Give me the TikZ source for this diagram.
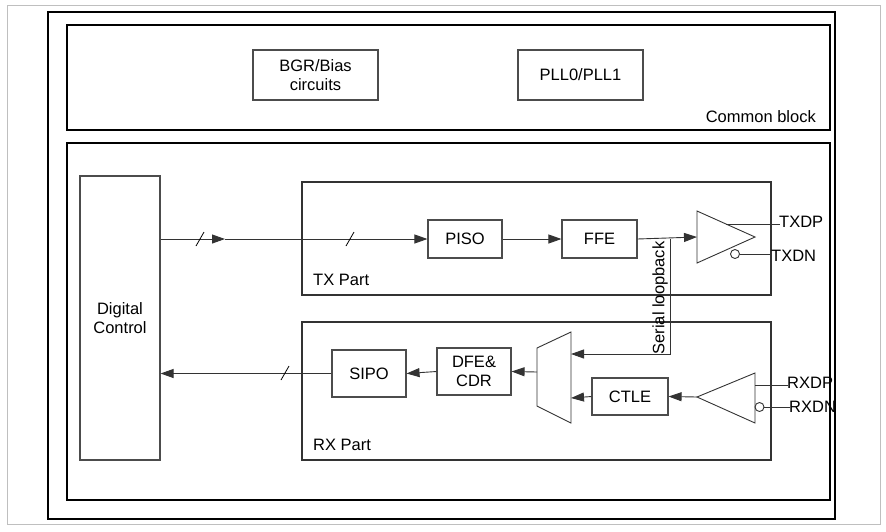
\documentclass[tikz,border=0pt]{standalone}
\usepackage{fontspec}
\setmainfont{Liberation Sans}
\usetikzlibrary{arrows.meta}
\begin{document}
\begin{tikzpicture}[x=1pt,y=-1pt,
  blk/.style={draw=black!70,line width=1.1pt,fill=white,align=center,font=\fontsize{16.5}{19}\selectfont,inner sep=0pt},
  lbl/.style={font=\fontsize{16.5}{19}\selectfont,inner sep=1pt},
  con/.style={draw=black!80,line width=0.9pt},
  arr/.style={con,-{Triangle[length=13pt,width=9pt]}},
  sl/.style={draw=black,line width=0.8pt}]
\useasboundingbox (0,0) rectangle (886,531);
\draw[black!25,line width=1pt] (7,5) rectangle (880,524);
\draw[line width=1.8pt] (48,12) rectangle (835,519);
\draw[line width=1.5pt] (67,25) rectangle (830,130);
\node[lbl,anchor=east] (cb) at (817,117) {Common block};
\node[blk,minimum width=125pt,minimum height=50pt] (bgr) at (315.5,75) {BGR/Bias\\circuits};
\node[blk,minimum width=125pt,minimum height=50pt] (pll) at (580.5,75) {PLL0/PLL1};
\draw[line width=1.5pt] (67,143) rectangle (830,500);
\node[blk,minimum width=80pt,minimum height=284pt] (dc) at (120,318) {Digital\\Control};
\draw[con,line width=1.1pt] (302,182) rectangle (771,295);
\node[lbl,anchor=west] (txp) at (312,280) {TX Part};
\draw[con,line width=1.1pt] (302,322) rectangle (771,460);
\node[lbl,anchor=west] (rxp) at (312,445) {RX Part};
\node[blk,minimum width=74pt,minimum height=38pt] (piso) at (465,239) {PISO};
\node[blk,minimum width=75pt,minimum height=38pt] (ffe) at (599.5,239) {FFE};
\node[blk,minimum width=74pt,minimum height=47pt] (sipo) at (369,373.5) {SIPO};
\node[blk,minimum width=74pt,minimum height=47pt] (dfe) at (474,371.5) {DFE\&\\CDR};
\node[blk,minimum width=76pt,minimum height=37pt] (ctle) at (630,396.5) {CTLE};
% TX driver
\coordinate (txin) at (697,237);
\draw[con] (697,211) -- (755,237) -- (697,263) -- cycle;
\draw[con] (726,224) -- (780,224);
\node[lbl,anchor=west] (txdp) at (778,222) {TXDP};
\draw[con] (735,254) circle (4.5);
\draw[con] (739.5,254) -- (772,254);
\node[lbl,anchor=west] (txdn) at (770,256) {TXDN};
% RX receiver
\draw[con] (697,397) -- (755,373) -- (755,423) -- cycle;
\coordinate (rxtip) at (697,397);
\draw[con] (755,385) -- (788,385);
\node[lbl,anchor=west] (rxdp) at (786,383) {RXDP};
\draw[con] (759.5,407) circle (4.5);
\draw[con] (764,407) -- (790,407);
\node[lbl,anchor=west] (rxdn) at (788,407) {RXDN};
% mux
\draw[con,fill=white] (537,348) -- (571,332) -- (571,423) -- (537,406) -- cycle;
\coordinate (muxl) at (537,372);
\coordinate (muxa) at (571,354);
\coordinate (muxb) at (571,398);
% connections
\draw[arr] (dc.east |- piso) -- (225,239);
\draw[arr] (225,239) -- (piso.west);
\draw[sl] (196,246) -- (204,232);
\draw[sl] (346,246) -- (354,232);
\draw[arr] (piso) -- (ffe);
\draw[arr] (ffe.east) -- (txin);
\coordinate (br) at (670,239);
\draw[arr] (br) -- (670,354) -- (muxa);
\node[lbl,rotate=90] (slb) at (660,298) {Serial loopback};
\draw[arr] (rxtip) -- (ctle.east);
\draw[arr] (ctle.west) -- (muxb);
\draw[arr] (muxl) -- (dfe.east);
\draw[arr] (dfe.west) -- (sipo.east);
\draw[arr] (sipo.west) -- (dc.east |- sipo);
\draw[sl] (281,380) -- (289,366);
\end{tikzpicture}
\end{document}
